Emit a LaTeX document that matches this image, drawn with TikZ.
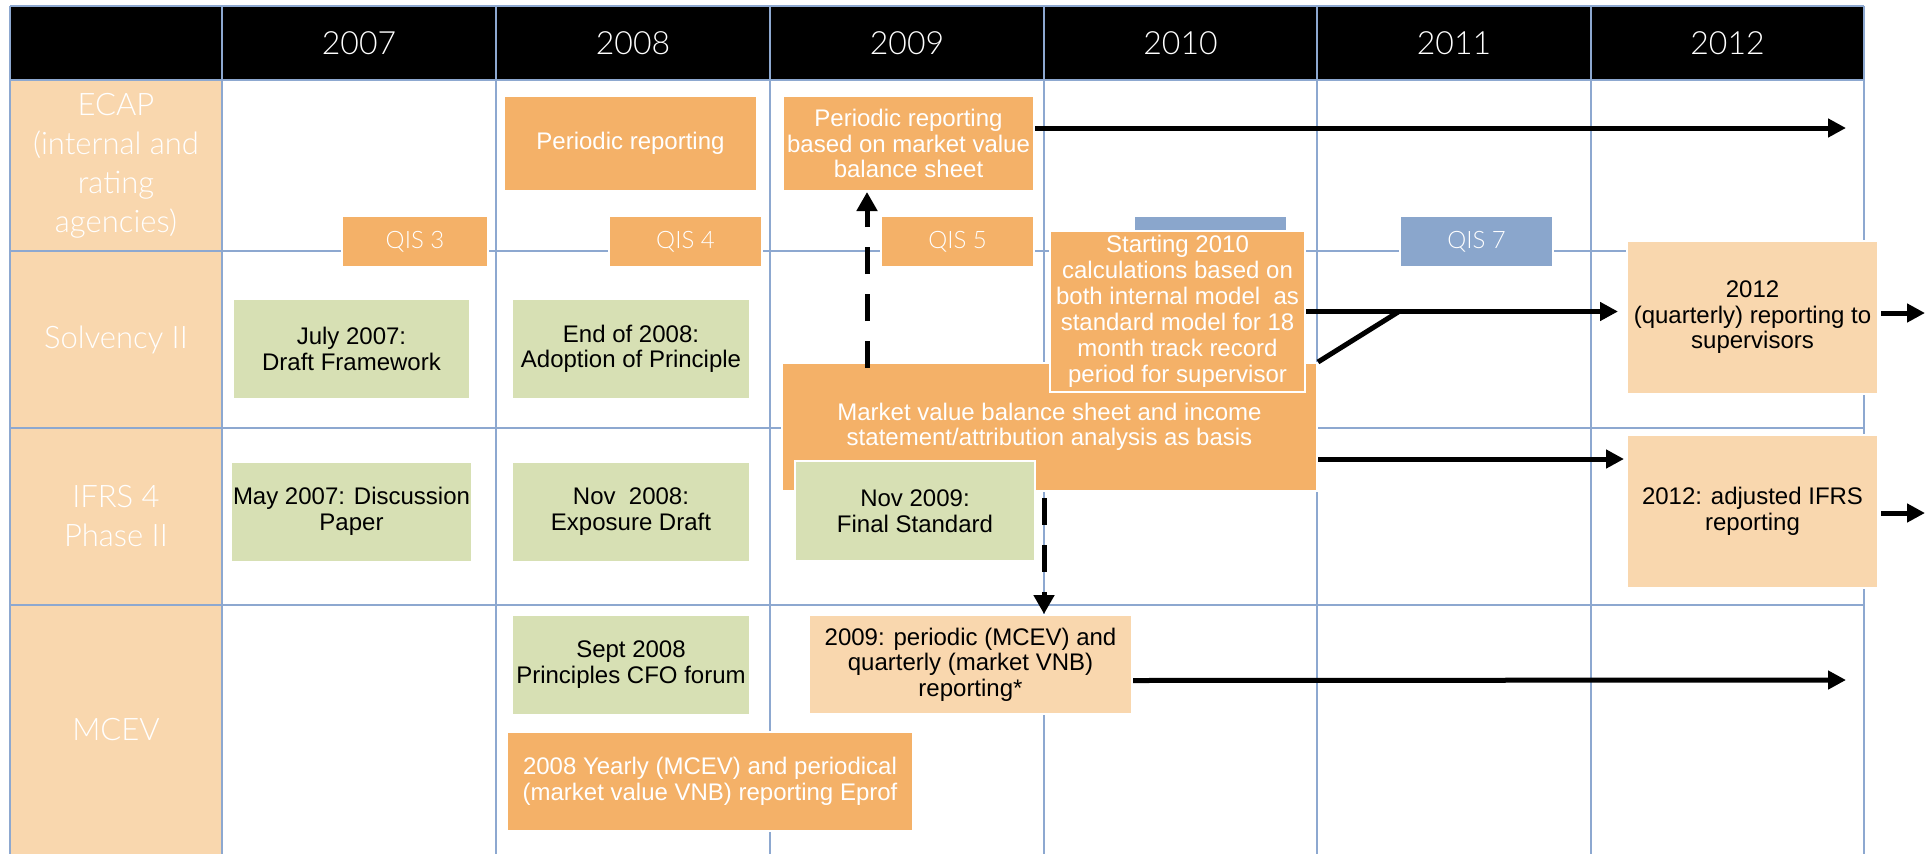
\documentclass[tikz,border=0pt]{standalone}
\usepackage{fontspec}
\setmainfont{Liberation Sans}
\IfFontExistsTF{Lato Light}{\newfontfamily\thinfont{Lato Light}}{\newfontfamily\thinfont{Liberation Sans}}
\usetikzlibrary{arrows.meta,positioning,calc}
\definecolor{ordark}{HTML}{F4B168}
\definecolor{orlight}{HTML}{F9D7AE}
\definecolor{grn}{HTML}{D7E0B4}
\definecolor{gridblue}{HTML}{8DA8D0}
\definecolor{qisblue}{HTML}{8AA6CC}
\tikzset{
  boxbase/.style={draw=white, line width=2pt, align=center, inner sep=2pt, font=\fontsize{24}{25.5}\selectfont},
  orangebox/.style={boxbase, fill=ordark, text=white},
  greenbox/.style={boxbase, fill=grn, text=black, minimum width=238, minimum height=100},
  peachbox/.style={boxbase, fill=orlight, text=black},
  qisbox/.style={boxbase, fill=ordark, text=white, minimum width=150, minimum height=51, font=\thinfont\fontsize{24}{26}\selectfont},
  bluebox/.style={qisbox, fill=qisblue},
  rowlabel/.style={align=center, text=white, font=\thinfont\fontsize{31}{39}\selectfont},
  yearlabel/.style={text=white, font=\thinfont\fontsize{32}{36}\selectfont},
  gridline/.style={draw=gridblue, line width=2.5pt},
  arrow/.style={-{Triangle[length=18pt, width=18pt]}, line width=5pt},
  dashedarrow/.style={-{Triangle[length=19pt, width=20pt]}, line width=5pt, dash pattern=on 27pt off 20pt}
}
\begin{document}
\begin{tikzpicture}[x=1pt, y=-1pt]
  \useasboundingbox (0,0) rectangle (1926,854);
  % table
  \fill[black] (10,6) rectangle (1864,80);
  \fill[orlight] (10,80) rectangle (222,854);
  \draw[gridline] (10,6) -- (1864,6) (10,80) -- (1864,80) (10,251) -- (1864,251)
    (10,428) -- (1864,428) (10,605) -- (1864,605);
  \draw[gridline] (10,6) -- (10,854) (222,6) -- (222,854) (496,6) -- (496,854)
    (770,6) -- (770,854) (1044,6) -- (1044,854) (1317,6) -- (1317,854)
    (1591,6) -- (1591,854) (1864,6) -- (1864,854);
  \node[yearlabel] (y2007) at (359,43) {2007};
  \node[yearlabel] (y2008) at (633,43) {2008};
  \node[yearlabel] (y2009) at (907,43) {2009};
  \node[yearlabel] (y2010) at (1180.5,43) {2010};
  \node[yearlabel] (y2011) at (1454,43) {2011};
  \node[yearlabel] (y2012) at (1727.5,43) {2012};
  \node[rowlabel] (ecap) at (116,165.5) {ECAP\\(internal and\\rating\\agencies)};
  \node[rowlabel] (solv) at (116,339.5) {Solvency II};
  \node[rowlabel] (ifrs) at (116,516.5) {IFRS 4\\Phase II};
  \node[rowlabel] (mcev) at (116,729.5) {MCEV};
  % QIS
  \node[qisbox, minimum width=146] (qis3) at (415,241.5) {QIS 3};
  \node[qisbox, minimum width=153] (qis4) at (685.5,241.5) {QIS 4};
  \node[qisbox, minimum width=153] (qis5) at (957.5,241.5) {QIS 5};
  \node[bluebox, minimum width=153] (qis6) at (1210.5,241.5) {};
  \node[bluebox, minimum width=153] (qis7) at (1476.5,241.5) {QIS 7};
  % ECAP
  \node[orangebox, minimum width=253, minimum height=95] (prd) at (630.5,143.5) {Periodic reporting};
  \node[orangebox, minimum width=251, minimum height=95] (prdmv) at (908.5,143.5) {Periodic reporting\\based on market value\\balance sheet};
  % milestones
  \node[greenbox, minimum width=237] (jul07) at (351.5,349) {July 2007:\\Draft Framework};
  \node[greenbox] (end08) at (631,349) {End of 2008:\\Adoption of Principle};
  \node[greenbox, minimum width=237] (may07) at (351.5,511.5) {May 2007: Discussion\\Paper};
  \node[greenbox] (nov08) at (631,511.5) {Nov~ 2008:\\Exposure Draft};
  \node[greenbox] (sep08) at (631,664.5) {Sept 2008\\Principles CFO forum};
  \node[orangebox, minimum width=406, minimum height=99] (yr08) at (710,781.5) {2008 Yearly (MCEV) and periodical\\(market value VNB) reporting Eprof};
  \node[peachbox, minimum width=323, minimum height=99] (mcev09) at (970.5,664.5) {2009: periodic (MCEV) and\\quarterly (market VNB)\\reporting*};
  \node[orangebox, minimum width=535, minimum height=128] (mvbs) at (1049.5,427) {Market value balance sheet and income\\statement/attribution analysis as basis};
  \node[orangebox, minimum width=255, minimum height=161, font=\fontsize{24}{26}\selectfont] (start10) at (1177.5,311.5) {Starting 2010\\calculations based on\\both internal model~ as\\standard model for 18\\month track record\\period for supervisor};
  \node[greenbox, minimum width=240] (nov09) at (915,511) {Nov 2009:\\Final Standard};
  \node[peachbox, minimum width=251, minimum height=153] (q12) at (1752.5,317.5) {2012\\(quarterly) reporting to\\supervisors};
  \node[peachbox, minimum width=251, minimum height=153] (ifrs12) at (1752.5,511.5) {2012: adjusted IFRS\\reporting};
  \coordinate (ecapend) at (1846,128);
  \coordinate (mcevend) at (1846,680);
  \coordinate (join) at (1399,311.5);
  \coordinate (qend) at (1925,313);
  \coordinate (iend) at (1925,513);
  % arrows
  \draw[arrow] ([yshift=15.5pt]prdmv.east) -- (ecapend);
  \draw[arrow] ([yshift=-16pt]mcev09.east) -- (mcevend);
  \draw[arrow, shorten >=8pt] (start10.east) -- (start10.east -| q12.west);
  \draw[line width=5pt] (mvbs.north east) -- (join);
  \draw[arrow, shorten >=2pt] ([yshift=-32pt]mvbs.east) -- ([yshift=-32pt]mvbs.east -| ifrs12.west);
  \draw[arrow, shorten <=2pt] ([yshift=4.5pt]q12.east) -- (qend);
  \draw[arrow, shorten <=2pt] ([yshift=-1.5pt]ifrs12.east) -- (iend);
  \draw[dashedarrow] ([xshift=-182.5pt, yshift=-6pt]mvbs.north) -- ([xshift=-182.5pt]mvbs.north |- prdmv.south);
  \draw[dashedarrow] ([xshift=-5.5pt, yshift=-6pt]mvbs.south) -- ([xshift=-5.5pt]mvbs.south |- mcev09.north);
\end{tikzpicture}
\end{document}
